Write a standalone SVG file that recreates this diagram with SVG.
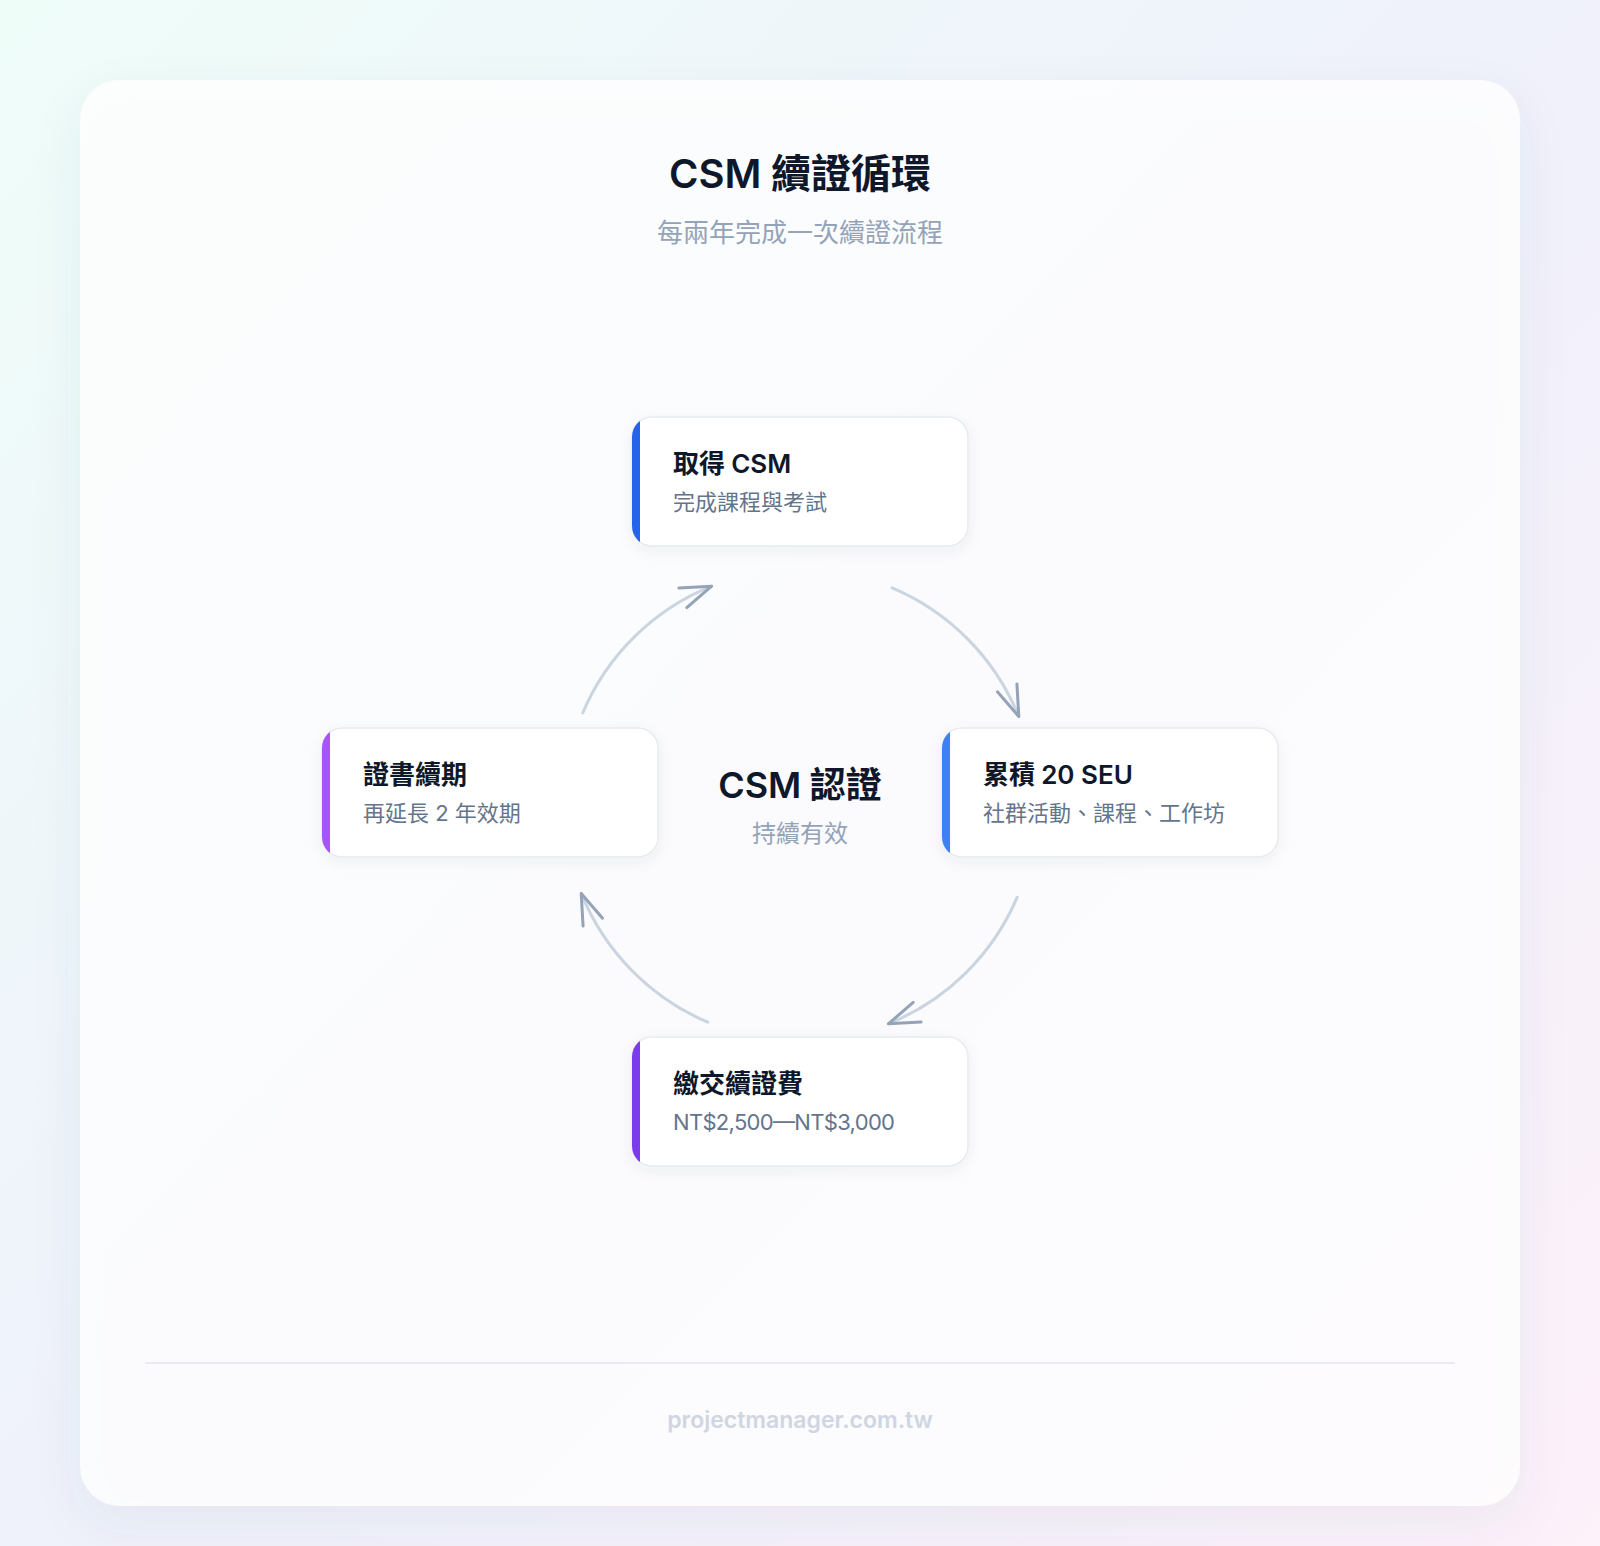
<svg xmlns="http://www.w3.org/2000/svg" width="1600" height="1546" viewBox="0 0 1600 1546">
  <defs>
    <linearGradient id="bg" x1="0" y1="0" x2="1600" y2="1546" gradientUnits="userSpaceOnUse">
      <stop offset="0" stop-color="#effdf9"/>
      <stop offset="0.5" stop-color="#eff1fb"/>
      <stop offset="1" stop-color="#fdf1fa"/>
    </linearGradient>
    <filter id="cardShadow" x="-10%" y="-10%" width="120%" height="120%">
      <feDropShadow dx="0" dy="18" stdDeviation="24" flood-color="#475569" flood-opacity="0.08"/>
    </filter>
    <filter id="nodeShadow" x="-10%" y="-20%" width="120%" height="150%">
      <feDropShadow dx="0" dy="4" stdDeviation="7" flood-color="#334155" flood-opacity="0.06"/>
    </filter>
    <clipPath id="nodeClip">
      <rect x="0" y="0" width="336" height="129" rx="20" ry="20"/>
    </clipPath>
    <marker id="chev" viewBox="-36 -16 40 32" refX="0" refY="0" markerWidth="40" markerHeight="32" markerUnits="userSpaceOnUse" orient="auto" overflow="visible">
      <path d="M -31 -10.5 L 0 0 L -31 10.5" fill="none" stroke="#94a3b8" stroke-width="3" stroke-linecap="round" stroke-linejoin="round"/>
    </marker>
    <style>
      .f { font-family: Inter, "Noto Sans CJK TC", "Noto Sans", sans-serif; }
      .lat { font-weight: 600; }
      .ntitle { font-size: 26px; font-weight: 700; fill: #0f172a; }
      .nsub { font-size: 22px; font-weight: 400; fill: #64748b; }
      .nbox { fill: #ffffff; stroke: #e8ebf0; stroke-width: 1.5; }
      .arc { fill: none; stroke: #cbd5e1; stroke-width: 3; stroke-linecap: round; marker-end: url(#chev); }
    </style>
  </defs>

  <rect x="0" y="0" width="1600" height="1546" fill="url(#bg)"/>

  <g id="card">
    <rect x="80" y="80" width="1440" height="1426" rx="40" ry="40" fill="#ffffff" fill-opacity="0.82" filter="url(#cardShadow)"/>
  </g>

  <g id="header" class="f" text-anchor="middle">
    <text x="800" y="188" font-size="40" font-weight="700" fill="#0f172a"><tspan class="lat">CSM</tspan> 續證循環</text>
    <text x="800" y="242" font-size="26" fill="#94a3b8">每兩年完成一次續證流程</text>
  </g>

  <g id="connectors">
    <path class="arc" d="M 892.2 587.8 A 236 236 0 0 1 1018.8 716.6"/>
    <path class="arc" d="M 1017.2 897.2 A 236 236 0 0 1 888.4 1023.8"/>
    <path class="arc" d="M 707.8 1022.2 A 236 236 0 0 1 581.2 893.4"/>
    <path class="arc" d="M 582.8 712.8 A 236 236 0 0 1 711.6 586.2"/>
  </g>

  <g id="center" class="f" text-anchor="middle">
    <text x="800" y="798" font-size="36" font-weight="700" fill="#0f172a"><tspan class="lat">CSM</tspan> 認證</text>
    <text x="800" y="842" font-size="24" fill="#94a3b8">持續有效</text>
  </g>

  <g id="node-obtain" transform="translate(632,417)">
    <rect class="nbox" x="0" y="0" width="336" height="129" rx="20" ry="20" filter="url(#nodeShadow)"/>
    <rect x="0" y="0" width="8" height="129" fill="#2563eb" clip-path="url(#nodeClip)"/>
    <text class="f ntitle" x="41" y="56">取得 <tspan class="lat">CSM</tspan></text>
    <text class="f nsub" x="41" y="93">完成課程與考試</text>
  </g>

  <g id="node-seu" transform="translate(942,728)">
    <rect class="nbox" x="0" y="0" width="336" height="129" rx="20" ry="20" filter="url(#nodeShadow)"/>
    <rect x="0" y="0" width="8" height="129" fill="#3b82f6" clip-path="url(#nodeClip)"/>
    <text class="f ntitle" x="41" y="56">累積 <tspan class="lat">20 SEU</tspan></text>
    <text class="f nsub" x="41" y="93">社群活動、課程、工作坊</text>
  </g>

  <g id="node-fee" transform="translate(632,1037)">
    <rect class="nbox" x="0" y="0" width="336" height="129" rx="20" ry="20" filter="url(#nodeShadow)"/>
    <rect x="0" y="0" width="8" height="129" fill="#7c3aed" clip-path="url(#nodeClip)"/>
    <text class="f ntitle" x="41" y="56">繳交續證費</text>
    <text class="f nsub" x="41" y="93" textLength="222" lengthAdjust="spacing">NT$2,500—NT$3,000</text>
  </g>

  <g id="node-renew" transform="translate(322,728)">
    <rect class="nbox" x="0" y="0" width="336" height="129" rx="20" ry="20" filter="url(#nodeShadow)"/>
    <rect x="0" y="0" width="8" height="129" fill="#a855f7" clip-path="url(#nodeClip)"/>
    <text class="f ntitle" x="41" y="56">證書續期</text>
    <text class="f nsub" x="41" y="93">再延長 2 年效期</text>
  </g>

  <g id="footer">
    <line x1="145" y1="1363" x2="1455" y2="1363" stroke="#e9ebf0" stroke-width="2"/>
    <text class="f" x="800" y="1428" text-anchor="middle" font-size="23" font-weight="600" fill="#cfd6e2">projectmanager.com.tw</text>
  </g>
</svg>
